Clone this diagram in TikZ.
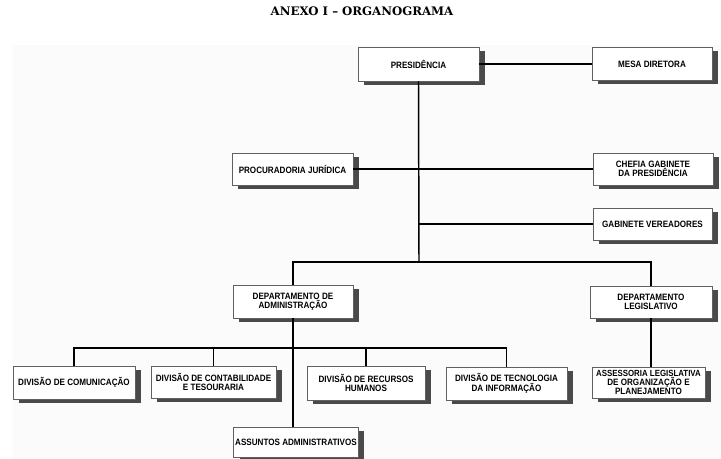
\documentclass[tikz,border=0pt]{standalone}
\usepackage{fontspec}
\setmainfont{Liberation Sans}
\newfontfamily\titlefont{DejaVu Serif}
\newfontfamily\boxfont[FakeStretch=0.88]{Liberation Sans}
\usepackage{xcolor}
\usepackage{tikz}
\usetikzlibrary{shadows}

\definecolor{shadowgray}{HTML}{4A4A4A}
\definecolor{boxline}{HTML}{606060}

\begin{document}
\begin{tikzpicture}[x=0.75pt,y=-0.75pt,
    orgbox/.style={draw=boxline,line width=0.7pt,fill=white,
        align=center,inner sep=1pt,
        font=\boxfont\fontsize{6.9}{7}\selectfont\bfseries,
        drop shadow={shadow xshift=4.5pt,shadow yshift=-3pt,
            fill=shadowgray,opacity=1}},
    link/.style={black,line width=1.1pt}]
    \useasboundingbox (0,0) rectangle (721,459);
    % faint grid of the scan
    \fill[black!1.5] (13,45) rectangle (721,459);

    \node[font=\titlefont\bfseries\fontsize{8.8}{10}\selectfont] (title) at (362,11) {ANEXO I \textendash{} ORGANOGRAMA};

    \newcommand{\boxat}[5]{%
        \node[orgbox,minimum width=#3,minimum height=#4] (#1) at (#2) {#5};
    }
    % top
    \boxat{pres}{418.5,64}{90.75pt}{25.5pt}{PRESIDÊNCIA}
    \boxat{mesa}{652,64}{90pt}{24.75pt}{MESA DIRETORA}
    \boxat{proc}{292.5,169}{90.75pt}{24pt}{PROCURADORIA JURÍDICA}
    \boxat{chefia}{653,169}{90pt}{24pt}{CHEFIA GABINETE\\DA PRESIDÊNCIA}
    \boxat{gabver}{652.5,224}{89.25pt}{24pt}{GABINETE VEREADORES}
    % departamentos
    \boxat{deptadm}{293,301.5}{90pt}{24.75pt}{DEPARTAMENTO DE\\ADMINISTRAÇÃO}
    \boxat{deptleg}{651,302}{91.5pt}{24pt}{DEPARTAMENTO\\LEGISLATIVO}
    % divisoes
    \boxat{divcom}{74,382.5}{91.5pt}{24.75pt}{DIVISÃO DE COMUNICAÇÃO}
    \boxat{divcont}{213.5,382}{93.75pt}{24pt}{DIVISÃO DE CONTABILIDADE\\E TESOURARIA}
    \boxat{divrh}{366,383}{88.5pt}{25.5pt}{DIVISÃO DE RECURSOS\\HUMANOS}
    \boxat{divtec}{506.5,383.5}{90.75pt}{24.75pt}{DIVISÃO DE TECNOLOGIA\\DA INFORMAÇÃO}
    \boxat{assess}{648.5,382.5}{84.75pt}{23.25pt}{\fontsize{6.7}{6.2}\selectfont ASSESSORIA LEGISLATIVA\\DE ORGANIZAÇÃO E\\PLANEJAMENTO}
    \boxat{assuntos}{296,442}{91.5pt}{22.5pt}{ASSUNTOS ADMINISTRATIVOS}

    % bus lines
    \coordinate (busdept) at (419,262);
    \coordinate (busdiv) at (293,348);

    \draw[link] (pres) -- (mesa);
    \draw[link] (pres.south) -- (busdept);
    \draw[link] (proc) -- (chefia);
    \draw[link] (pres.south |- gabver) -- (gabver.west);
    \draw[link] (deptadm.north) |- (busdept) -| (deptleg.north);
    \draw[link] (deptadm.south) -- (deptadm.south |- assuntos.north);
    \draw[link] (divcom.north) |- (busdiv) -| (divtec.north);
    \foreach \div in {divcont,divrh} {
        \draw[link] (\div.north) -- (\div.north |- busdiv);
    }
    \draw[link] (deptleg.south) -- (deptleg.south |- assess.north);
\end{tikzpicture}
\end{document}
